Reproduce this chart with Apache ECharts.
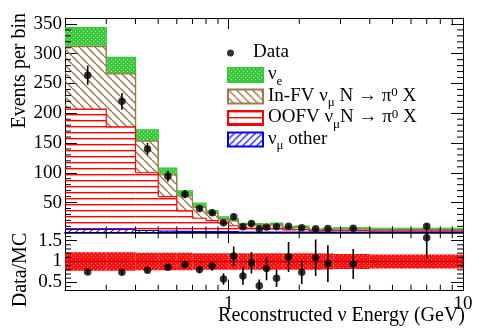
<!DOCTYPE html>
<html>
<head>
<meta charset="utf-8">
<script src="https://cdn.jsdelivr.net/npm/echarts@6/dist/echarts.min.js"></script>
<style>
  html, body { margin: 0; padding: 0; background: #fff; }
  #main { width: 491px; height: 332px; }
</style>
</head>
<body>
<div id="main"></div>
<script>
// bins (GeV) and stacked MC components, events per bin
var binEdges = [0.2, 0.3, 0.4, 0.5, 0.6, 0.7, 0.8, 0.9, 1.0, 1.1, 1.2, 1.3, 1.4, 1.5, 1.7, 1.9, 2.2, 2.5, 2.8, 4.0, 10];
var numuOther = [5, 5, 3, 2, 1.5, 1, 1, 1, 1, 0.5, 0.5, 0.5, 0.5, 0.5, 0.5, 0.5, 0.3, 0.3, 0.5, 0.5];
var oofv = [202, 172, 97, 58, 34.5, 22.6, 18.5, 15, 10, 7, 6, 6, 4.5, 6, 3.5, 4, 2, 2.5, 2.5, 2];
var infv = [105, 89, 53, 36.5, 25, 18.4, 12.5, 6, 8, 5.5, 6, 5.5, 4, 6, 3, 3.5, 1.7, 2, 2.5, 2];
var nue = [32, 28, 19, 11.5, 8.5, 7, 4, 4, 3.4, 2, 2.5, 2.5, 2, 3, 2, 2.5, 1.5, 1.7, 2, 2];

// data points
var dataX = [0.25, 0.35, 0.45, 0.55, 0.65, 0.75, 0.85, 0.95, 1.05, 1.15, 1.25, 1.35, 1.45, 1.6, 1.8, 2.05, 2.35, 2.65, 3.4, 7.0];
var dataY = [264, 220, 140, 94, 64, 40, 33, 16, 26, 9.4, 14.6, 6, 9, 9.3, 10, 7.8, 6, 6.2, 7, 10.2];
var dataErr = [16, 14, 10, 9, 7, 6, 5.5, 4, 5, 3, 4, 2.5, 3, 3, 3, 2.8, 2.5, 2.5, 2.6, 3.2];

// ratio panel
var ratioY = [0.75, 0.74, 0.79, 0.86, 0.93, 0.81, 0.89, 0.58, 1.13, 0.65, 0.97, 0.42, 0.83, 0.60, 1.11, 0.74, 1.09, 0.95, 0.94, 1.57];
var ratioErr = [0.05, 0.05, 0.05, 0.06, 0.08, 0.09, 0.11, 0.14, 0.23, 0.21, 0.26, 0.15, 0.28, 0.21, 0.36, 0.28, 0.44, 0.44, 0.36, 0.5];
var mcErr = [0.22, 0.22, 0.21, 0.21, 0.21, 0.2, 0.2, 0.2, 0.2, 0.2, 0.2, 0.2, 0.2, 0.2, 0.2, 0.2, 0.2, 0.19, 0.18, 0.17];

// axis ticks
var xMinorTicks = [0.3, 0.4, 0.5, 0.6, 0.7, 0.8, 0.9, 2, 3, 4, 5, 6, 7, 8, 9];
var yMinorTicksTop = [];
for (var t = 10; t < 360; t += 10) { if (t % 50 !== 0) yMinorTicksTop.push(t); }
var yMinorTicksRatio = [0.4, 0.6, 0.7, 0.8, 0.9, 1.1, 1.2, 1.3, 1.4, 1.6];

var FONT = '"Liberation Serif", "DejaVu Serif", serif';

function pattern(w, h, draw) {
  var c = document.createElement('canvas');
  c.width = w; c.height = h;
  draw(c.getContext('2d'), w, h);
  return { image: c, repeat: 'repeat' };
}
function diag(ctx, s, color, width, up) {
  ctx.strokeStyle = color; ctx.lineWidth = width;
  for (var k = -1; k <= 1; k++) {
    ctx.beginPath();
    if (up) { ctx.moveTo(k * s, s); ctx.lineTo(k * s + s, 0); }
    else { ctx.moveTo(k * s, 0); ctx.lineTo(k * s + s, s); }
    ctx.stroke();
  }
}
var greenFill = pattern(4, 4, function (ctx) {
  ctx.fillStyle = '#3cc83c'; ctx.fillRect(0, 0, 4, 4);
  ctx.fillStyle = '#a6eaa6'; ctx.fillRect(1, 1, 1, 1); ctx.fillRect(3, 3, 1, 1);
});
var brownFill = pattern(8, 8, function (ctx, w) { diag(ctx, w, '#a0784c', 1.4, false); });
var redFill = pattern(6, 6, function (ctx) {
  ctx.fillStyle = '#ff0000'; ctx.fillRect(0, 0, 6, 1.4);
});
var blueFill = pattern(7, 7, function (ctx, w) { diag(ctx, w, '#1a1aff', 1.3, true); });
var bandFill = pattern(4, 4, function (ctx) {
  ctx.fillStyle = '#ff1010'; ctx.fillRect(0, 0, 4, 4);
  ctx.fillStyle = '#ff7a7a'; ctx.fillRect(1, 1, 1, 1); ctx.fillRect(3, 3, 1, 1);
});

// cumulative levels
var lvl0 = [], lvl1 = [], lvl2 = [], lvl3 = [], lvl4 = [];
for (var i = 0; i < numuOther.length; i++) {
  lvl0.push(0);
  lvl1.push(numuOther[i]);
  lvl2.push(lvl1[i] + oofv[i]);
  lvl3.push(lvl2[i] + infv[i]);
  lvl4.push(lvl3[i] + nue[i]);
}

function stackSeries(name, lower, upper, fill, stroke) {
  return {
    type: 'custom', name: name, xAxisIndex: 0, yAxisIndex: 0, clip: true, z: 2,
    itemStyle: { color: fill, borderColor: stroke, borderWidth: 1.2 },
    data: upper.map(function (u, i) {
      return [binEdges[i], u, binEdges[i + 1], lower[i], i + 1 < upper.length ? upper[i + 1] : 0];
    }),
    renderItem: function (params, api) {
      var a = api.coord([api.value(0), api.value(1)]);
      var b = api.coord([api.value(2), api.value(3)]);
      var n = api.coord([api.value(2), api.value(4)]);
      return {
        type: 'group', children: [
          { type: 'rect', shape: { x: a[0], y: a[1], width: b[0] - a[0], height: b[1] - a[1] }, style: { fill: fill } },
          { type: 'polyline', shape: { points: [[a[0], a[1]], [b[0], a[1]], [b[0], n[1]]] },
            style: { stroke: stroke, lineWidth: 1.2, fill: null } }
        ]
      };
    }
  };
}

function errSeries(name, grid, xs, ys, es) {
  return {
    type: 'custom', name: name, xAxisIndex: grid * 2, yAxisIndex: grid * 2, clip: true, z: 5,
    data: xs.map(function (x, i) { return [x, ys[i], es[i]]; }),
    renderItem: function (params, api) {
      var p = api.coord([api.value(0), api.value(1) + api.value(2)]);
      var q = api.coord([api.value(0), api.value(1) - api.value(2)]);
      return { type: 'line', shape: { x1: p[0], y1: p[1], x2: q[0], y2: q[1] }, style: { stroke: '#000', lineWidth: 1.6 } };
    }
  };
}

function minorTickSeries(grid, yr, yTicks, xLen, yLen) {
  var items = [];
  xMinorTicks.forEach(function (v) { items.push([v, yr[0], 0]); });
  yTicks.forEach(function (v) { items.push([0.2, v, 1]); });
  return {
    type: 'custom', xAxisIndex: grid * 2, yAxisIndex: grid * 2, clip: false, z: 6, silent: true,
    data: items,
    renderItem: function (params, api) {
      var v0 = api.value(0), v1 = api.value(1);
      var s = { stroke: '#000', lineWidth: 1 };
      if (api.value(2) === 0) {
        var lo = api.coord([v0, yr[0]]), hi = api.coord([v0, yr[1]]);
        return { type: 'group', children: [
          { type: 'line', shape: { x1: lo[0], y1: lo[1], x2: lo[0], y2: lo[1] - xLen }, style: s },
          { type: 'line', shape: { x1: hi[0], y1: hi[1], x2: hi[0], y2: hi[1] + xLen }, style: s }
        ] };
      }
      var l = api.coord([0.2, v1]), r = api.coord([10, v1]);
      return { type: 'group', children: [
        { type: 'line', shape: { x1: l[0], y1: l[1], x2: l[0] + yLen, y2: l[1] }, style: s },
        { type: 'line', shape: { x1: r[0], y1: r[1], x2: r[0] - yLen, y2: r[1] }, style: s }
      ] };
    }
  };
}

function xAx(grid, pos, labels, lineColor, lineWidth) {
  return {
    type: 'log', logBase: 10, gridIndex: grid, position: pos, min: 0.2, max: 10,
    axisLine: { show: true, onZero: false, lineStyle: { color: lineColor || '#000', width: lineWidth || 1 } },
    axisTick: { show: true, inside: true, length: 11, lineStyle: { color: '#000' } },
    axisLabel: labels ? { show: true, showMinLabel: false, margin: 4, color: '#000', fontSize: 19, fontFamily: FONT,
      formatter: function (v) { return String(v); } } : { show: false },
    splitLine: { show: false }
  };
}
function yAx(grid, pos, min, max, opts, labels) {
  var a = {
    type: 'value', gridIndex: grid, position: pos, min: min, max: max,
    axisLine: { show: true, lineStyle: { color: '#000', width: 1 } },
    axisTick: { show: true, inside: true, length: 12, lineStyle: { color: '#000' } },
    axisLabel: labels ? { show: true, showMinLabel: false, showMaxLabel: false, margin: 3, color: '#000', fontSize: 19, fontFamily: FONT } : { show: false },
    splitLine: { show: false }
  };
  for (var k in opts) a[k] = opts[k];
  return a;
}

var legendText = {
  'Data': '{t|Data}',
  'nue': '{t|ν}{s|e}',
  'infv': '{t|In-FV ν}{s|μ}{t| N → π}{p|0}{t| X}',
  'oofv': '{t|OOFV ν}{s|μ}{t|N → π}{p|0}{t| X}',
  'other': '{t|ν}{s|μ}{t| other}'
};
var legendRich = {
  t: { fontSize: 19, lineHeight: 20, verticalAlign: 'top', fontFamily: FONT, color: '#000' },
  s: { fontSize: 13, lineHeight: 13, padding: [10, 0, 0, 0], verticalAlign: 'top', fontFamily: FONT, color: '#000' },
  p: { fontSize: 13, lineHeight: 13, padding: [0, 0, 7, 0], verticalAlign: 'top', fontFamily: FONT, color: '#000' }
};

var chart = echarts.init(document.getElementById('main'), null, { renderer: 'canvas' });
chart.setOption({
  animation: false,
  backgroundColor: '#fff',
  grid: [
    { left: 65, top: 18, width: 398, height: 214.3 },
    { left: 65, top: 232.3, width: 398, height: 58.4 }
  ],
  xAxis: [
    xAx(0, 'bottom', false, '#00005a', 1.6), xAx(0, 'top', false),
    xAx(1, 'bottom', true), xAx(1, 'top', false)
  ],
  yAxis: [
    yAx(0, 'left', 0, 360, { interval: 50 }, true), yAx(0, 'right', 0, 360, { interval: 50 }, false),
    yAx(1, 'left', 0.3, 1.7, { splitNumber: 3 }, true), yAx(1, 'right', 0.3, 1.7, { splitNumber: 3 }, false)
  ],
  legend: [
    { data: ['Data'], orient: 'vertical', left: 227, top: 43, padding: 0, itemWidth: 35, itemHeight: 7,
      icon: 'circle', selectedMode: false, formatter: function (n) { return legendText[n]; },
      textStyle: { rich: legendRich } },
    { data: ['nue', 'infv', 'oofv', 'other'], orient: 'vertical', left: 227, top: 65, padding: 0,
      itemWidth: 35, itemHeight: 14, itemGap: -1.5, icon: 'rect', selectedMode: false,
      formatter: function (n) { return legendText[n]; }, textStyle: { rich: legendRich } }
  ],
  graphic: [
    { type: 'text', x: 20, y: 13, rotation: Math.PI / 2,
      style: { text: 'Events per bin', fontSize: 20, fontFamily: FONT, fill: '#000', align: 'right', verticalAlign: 'middle' } },
    { type: 'text', x: 21, y: 270, rotation: Math.PI / 2,
      style: { text: 'Data/MC', fontSize: 20, fontFamily: FONT, fill: '#000', align: 'center', verticalAlign: 'middle' } },
    { type: 'text', x: 465, y: 316,
      style: { text: 'Reconstructed ν Energy (GeV)', fontSize: 20, fontFamily: FONT, fill: '#000', align: 'right', verticalAlign: 'middle' } }
  ],
  series: [
    stackSeries('nue', lvl3, lvl4, greenFill, '#33cc33'),
    stackSeries('infv', lvl2, lvl3, brownFill, '#a0784c'),
    stackSeries('oofv', lvl1, lvl2, redFill, '#ff0000'),
    stackSeries('other', lvl0, lvl1, blueFill, '#0000ff'),
    errSeries('dataErr', 0, dataX, dataY, dataErr),
    { type: 'scatter', name: 'Data', xAxisIndex: 0, yAxisIndex: 0, symbol: 'circle', symbolSize: 7.5, z: 6,
      itemStyle: { color: '#000' }, data: dataX.map(function (x, i) { return [x, dataY[i]]; }) },
    { type: 'custom', name: 'mcband', xAxisIndex: 2, yAxisIndex: 2, clip: true, z: 2,
      data: mcErr.map(function (e, i) { return [binEdges[i], 1, binEdges[i + 1], e]; }),
      renderItem: function (params, api) {
        var a = api.coord([api.value(0), api.value(1) + api.value(3)]);
        var b = api.coord([api.value(2), api.value(1) - api.value(3)]);
        var m = api.coord([api.value(0), api.value(1)]);
        return { type: 'group', children: [
          { type: 'rect', shape: { x: a[0], y: a[1], width: b[0] - a[0], height: b[1] - a[1] }, style: { fill: bandFill } },
          { type: 'line', shape: { x1: a[0], y1: m[1], x2: b[0], y2: m[1] }, style: { stroke: '#e00000', lineWidth: 2 } }
        ] };
      } },
    errSeries('ratioErr', 1, dataX, ratioY, ratioErr),
    { type: 'scatter', name: 'ratio', xAxisIndex: 2, yAxisIndex: 2, symbol: 'circle', symbolSize: 7.5, z: 6, clip: true,
      itemStyle: { color: '#000' }, data: dataX.map(function (x, i) { return [x, ratioY[i]]; }) },
    minorTickSeries(0, [0, 360], yMinorTicksTop, 6, 6),
    minorTickSeries(1, [0.3, 1.7], yMinorTicksRatio, 6, 6)
  ]
});
</script>
</body>
</html>
